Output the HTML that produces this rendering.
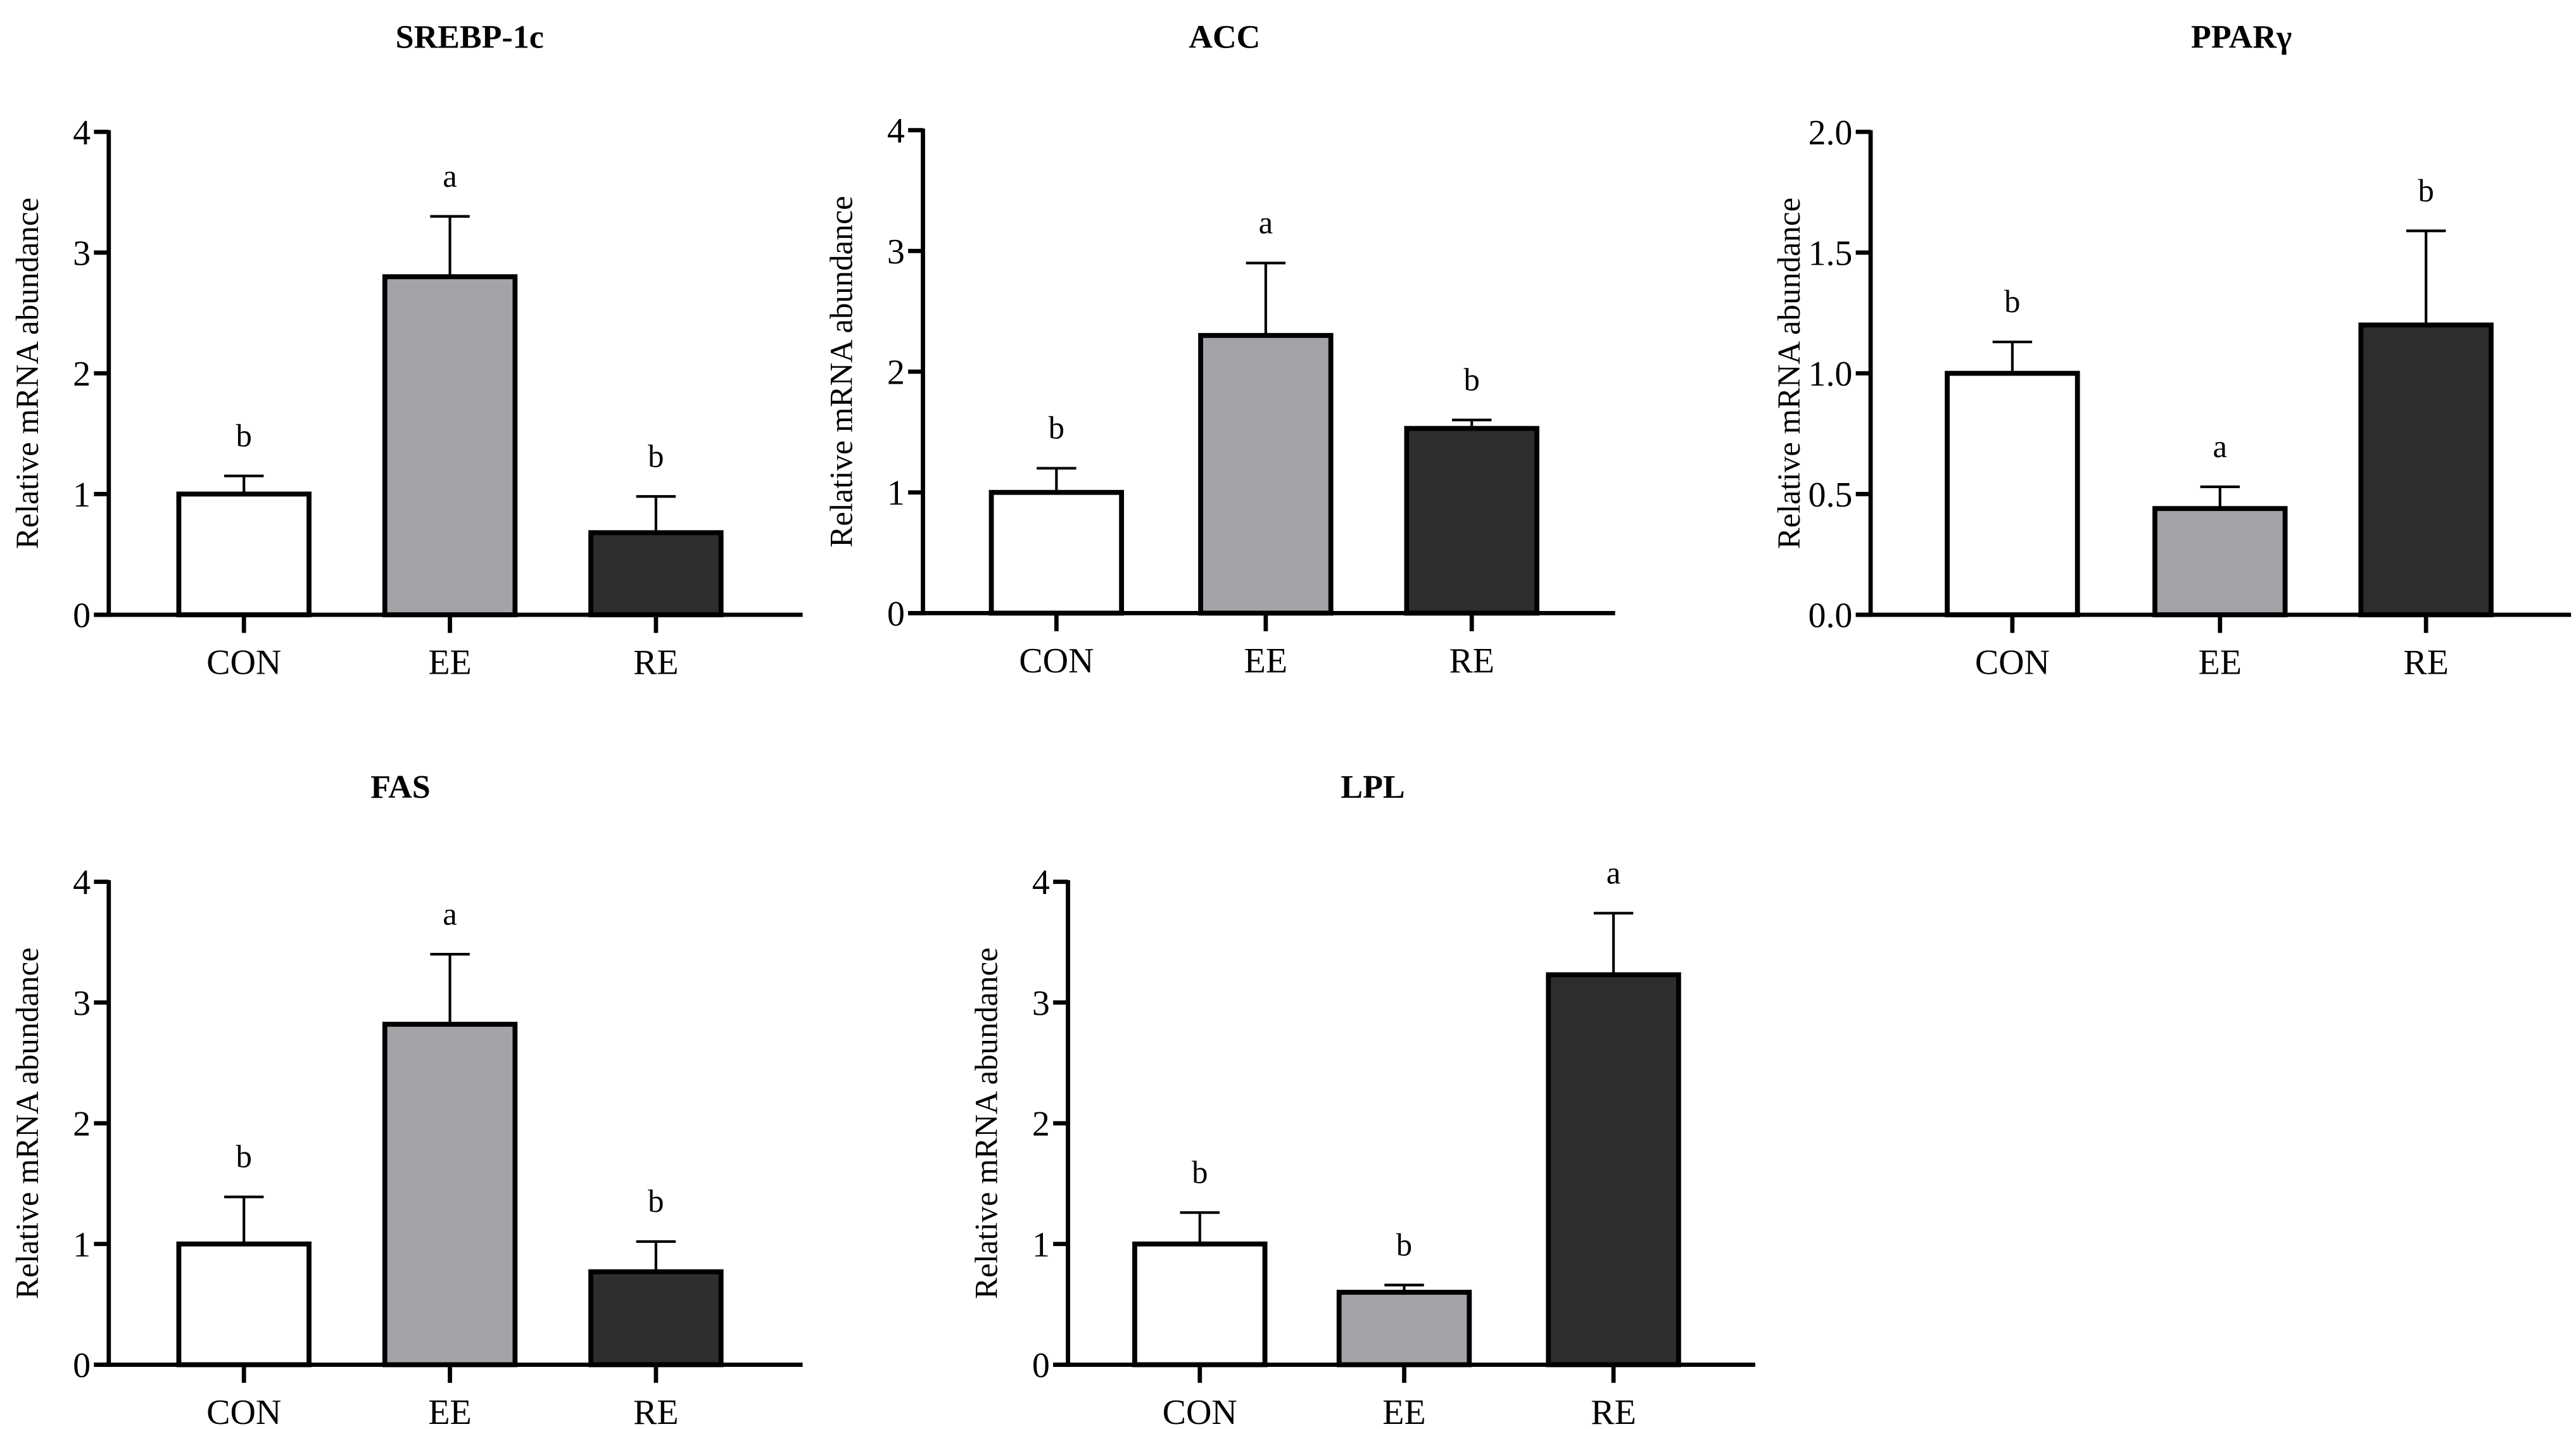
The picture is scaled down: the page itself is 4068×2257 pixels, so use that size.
<!DOCTYPE html>
<html><head><meta charset="utf-8"><style>html,body{margin:0;padding:0;background:#fff}svg{display:block}</style></head>
<body>
<svg id="fig" width="4068" height="2257" viewBox="0 0 1563 867" preserveAspectRatio="none" xmlns="http://www.w3.org/2000/svg" font-family="'Liberation Serif', serif"></svg>
<script>
const categories = ["CON", "EE", "RE"];
const titles = ["SREBP-1c", "ACC", "PPARγ", "FAS", "LPL"];
const meansSREBP = [1.0, 2.8, 0.68];
const errSREBP = [1.15, 3.3, 0.98];
const lettersSREBP = ["b", "a", "b"];
const meansACC = [1.0, 2.3, 1.53];
const errACC = [1.2, 2.9, 1.6];
const lettersACC = ["b", "a", "b"];
const meansPPAR = [1.0, 0.44, 1.2];
const errPPAR = [1.13, 0.53, 1.59];
const lettersPPAR = ["b", "a", "b"];
const meansFAS = [1.0, 2.82, 0.77];
const errFAS = [1.39, 3.4, 1.02];
const lettersFAS = ["b", "a", "b"];
const meansLPL = [1.0, 0.6, 3.23];
const errLPL = [1.26, 0.66, 3.74];
const lettersLPL = ["b", "b", "a"];
const ticks4 = ["0", "1", "2", "3", "4"];
const ticksPPAR = ["0.0", "0.5", "1.0", "1.5", "2.0"];
const fills = ["#ffffff", "#a4a3a8", "#2e2e2e"];

const NS = "http://www.w3.org/2000/svg";
const svg = document.getElementById("fig");
function mk(tag, attrs, parent, text) {
  const e = document.createElementNS(NS, tag);
  for (const k in attrs) e.setAttribute(k, attrs[k]);
  if (text !== undefined) e.textContent = text;
  parent.appendChild(e);
  return e;
}
const panels = [
  {t:0, means:meansSREBP, err:errSREBP, let:lettersSREBP, ticks:ticks4, max:4, ax:66, y0:373, top:80, end:487, c:[148,273,398], tx:285, ty:29},
  {t:1, means:meansACC, err:errACC, let:lettersACC, ticks:ticks4, max:4, ax:560, y0:372, top:79, end:980, c:[641,768,893], tx:743, ty:29},
  {t:2, means:meansPPAR, err:errPPAR, let:lettersPPAR, ticks:ticksPPAR, max:2, ax:1135, y0:373, top:80, end:1560, c:[1221,1347,1472], tx:1360, ty:29},
  {t:3, means:meansFAS, err:errFAS, let:lettersFAS, ticks:ticks4, max:4, ax:66, y0:828, top:535, end:487, c:[148,273,398], tx:243, ty:484},
  {t:4, means:meansLPL, err:errLPL, let:lettersLPL, ticks:ticks4, max:4, ax:648, y0:828, top:535, end:1065, c:[728,852,979], tx:833, ty:484}
];
panels.forEach((p, pi) => {
  const g = mk("g", {}, svg);
  
  
  const y = v => p.y0 - (v / p.max) * (p.y0 - p.top);
  const title = mk("text", {x:p.tx, y:p.ty, "text-anchor":"middle", "font-size":20, "font-weight":"bold"}, g, titles[p.t]);
  
  
  const yt = mk("text", {transform:`translate(${p.ax-43},${(p.y0+p.top)/2}) rotate(-90)`, "text-anchor":"middle", "font-size":19.5}, g, "Relative mRNA abundance");
  
  
  p.means.forEach((m, i) => {
    const cx = p.c[i];
    const ey = y(p.err[i]);
    const el = mk("line", {x1:cx, x2:cx, y1:y(m), y2:ey, stroke:"#000", "stroke-width":1.6}, g);
    
    
    const cap = mk("line", {x1:cx-12, x2:cx+12, y1:ey, y2:ey, stroke:"#000", "stroke-width":1.6}, g);
    
    
    const b = mk("rect", {x:cx-39.5, y:y(m), width:79, height:p.y0 - y(m), fill:fills[i], stroke:"#000", "stroke-width":3}, g);
    
    
    const lt = mk("text", {x:cx, y:ey - 18, "text-anchor":"middle", "font-size":19.5}, g, p.let[i]);
    
    
    const tk = mk("line", {x1:cx, x2:cx, y1:p.y0, y2:p.y0+11, stroke:"#000", "stroke-width":2.6}, g);
    
    
    const xl = mk("text", {x:cx, y:p.y0+36, "text-anchor":"middle", "font-size":21.5}, g, categories[i]);
    
    
  });
  const ya = mk("line", {x1:p.ax, x2:p.ax, y1:p.top-1, y2:p.y0+1.3, stroke:"#000", "stroke-width":2.6}, g);
  
  
  const xa = mk("line", {x1:p.ax-9, x2:p.end, y1:p.y0, y2:p.y0, stroke:"#000", "stroke-width":2.6}, g);
  
  
  p.ticks.forEach((t, i) => {
    const v = i * p.max / (p.ticks.length - 1);
    const ty = y(v);
    const tl = mk("line", {x1:p.ax-9, x2:p.ax, y1:ty, y2:ty, stroke:"#000", "stroke-width":2.6}, g);
    
    
    const tt = mk("text", {x:p.ax-11, y:ty+7.5, "text-anchor":"end", "font-size":21.5}, g, t);
    
    
  });
});
</script>
</body></html>
